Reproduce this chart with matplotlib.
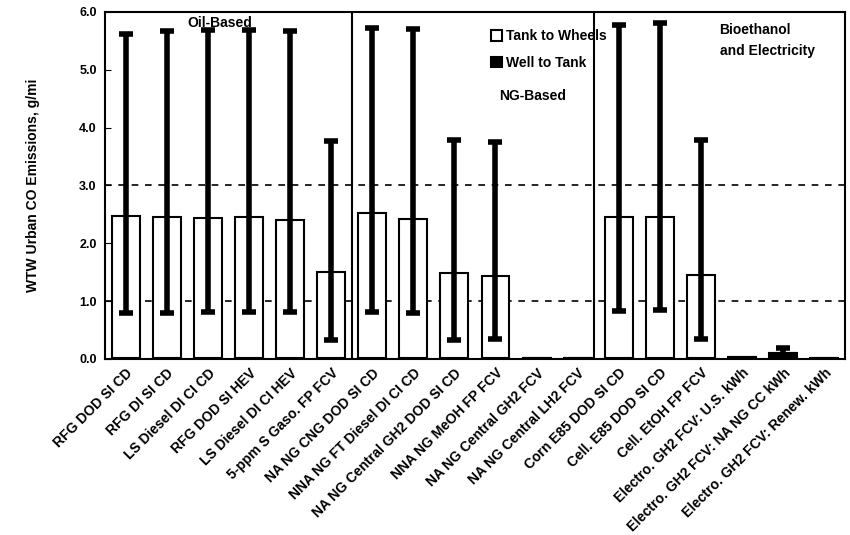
import numpy as np
import matplotlib
matplotlib.use('Agg')
from matplotlib import pyplot as plt

plt.rcParams['font.family'] = ['Liberation Sans', 'DejaVu Sans']
plt.rcParams['font.weight'] = 'bold'

pathways = ['RFG DOD SI CD', 'RFG DI SI CD', 'LS Diesel DI CI CD', 'RFG DOD SI HEV',
            'LS Diesel DI CI HEV', '5-ppm S Gaso. FP FCV', 'NA NG CNG DOD SI CD',
            'NNA NG FT Diesel DI CI CD', 'NA NG Central GH2 DOD SI CD', 'NNA NG MeOH FP FCV',
            'NA NG Central GH2 FCV', 'NA NG Central LH2 FCV', 'Corn E85 DOD SI CD',
            'Cell. E85 DOD SI CD', 'Cell. EtOH FP FCV', 'Electro. GH2 FCV: U.S. kWh',
            'Electro. GH2 FCV: NA NG CC kWh', 'Electro. GH2 FCV: Renew. kWh']

well_to_tank = [0.01, 0.01, 0.01, 0.01, 0.01, 0.01, 0.01, 0.01, 0.01, 0.01,
                0.02, 0.01, 0.01, 0.01, 0.01, 0.04, 0.11, 0.01]
tank_to_wheels = [2.46, 2.45, 2.43, 2.45, 2.39, 1.49, 2.51, 2.41, 1.48, 1.43,
                  0.0, 0.0, 2.45, 2.45, 1.44, 0.0, 0.0, 0.0]
err_low = [0.80, 0.80, 0.81, 0.81, 0.81, 0.33, 0.81, 0.80, 0.33, 0.35,
           0.02, 0.01, 0.83, 0.85, 0.35, 0.04, 0.06, 0.01]
err_high = [5.61, 5.67, 5.69, 5.69, 5.66, 3.77, 5.72, 5.70, 3.79, 3.75,
            0.02, 0.01, 5.78, 5.80, 3.78, 0.04, 0.19, 0.01]

x = np.arange(len(pathways))
wtt = np.array(well_to_tank)
ttw = np.array(tank_to_wheels)
total = wtt + ttw
lo = total - np.array(err_low)
hi = np.array(err_high) - total

fig = plt.figure(figsize=(8.5, 5.35), dpi=100)
ax = fig.add_axes([0.1235, 0.329, 0.8705, 0.649])

for lev in [1.0, 3.0]:
    ax.axhline(lev, color='k', linestyle=(0, (4, 4)), linewidth=1.2, zorder=1)

ax.bar(x, wtt, width=0.68, color='black', edgecolor='black', linewidth=1.5,
       label='Well to Tank', zorder=2)
ax.bar(x, ttw, width=0.68, bottom=wtt, color='white', edgecolor='black', linewidth=1.5,
       label='Tank to Wheels', zorder=2)
show = np.array(err_high) - np.array(err_low) > 0.05
ax.errorbar(x[show], total[show], yerr=[lo[show], hi[show]], fmt='none', ecolor='black',
            elinewidth=4, capsize=5, capthick=4, zorder=3)

for sep in [5.5, 11.4]:
    ax.axvline(sep, color='k', linewidth=1.5, zorder=4)

ax.set_xlim(-0.5, 17.5)
ax.set_ylim(0, 6)
ax.set_yticks(np.arange(0, 6.1, 1.0))
ax.set_yticklabels(['%.1f' % v for v in np.arange(0, 6.1, 1.0)], fontsize=9, fontweight='bold')
ax.set_xticks(x)
ax.set_xticklabels(pathways, rotation=45, ha='right', rotation_mode='anchor',
                   fontsize=10, fontweight='bold')
ax.tick_params(axis='x', length=0, pad=5)
ax.tick_params(axis='y', direction='in', length=4, pad=6)
for s in ax.spines.values():
    s.set_linewidth(1.5)

ax.set_ylabel('WTW Urban CO Emissions, g/mi', fontsize=10, fontweight='bold', labelpad=28)

ax.text(2.3, 5.8, 'Oil-Based', fontsize=10, fontweight='bold', ha='center', va='center')
ax.text(9.9, 4.55, 'NG-Based', fontsize=10, fontweight='bold', ha='center', va='center')
ax.text(14.45, 5.5, 'Bioethanol\nand Electricity', fontsize=10, fontweight='bold',
        ha='left', va='center', linespacing=1.6)

h, l = ax.get_legend_handles_labels()
ax.legend(h[::-1], l[::-1], loc='upper left', bbox_to_anchor=(0.505, 0.985), frameon=False,
          fontsize=10, handlelength=0.8, handleheight=0.8, handletextpad=0.3,
          labelspacing=0.9)

plt.savefig('out.png', dpi=100)
